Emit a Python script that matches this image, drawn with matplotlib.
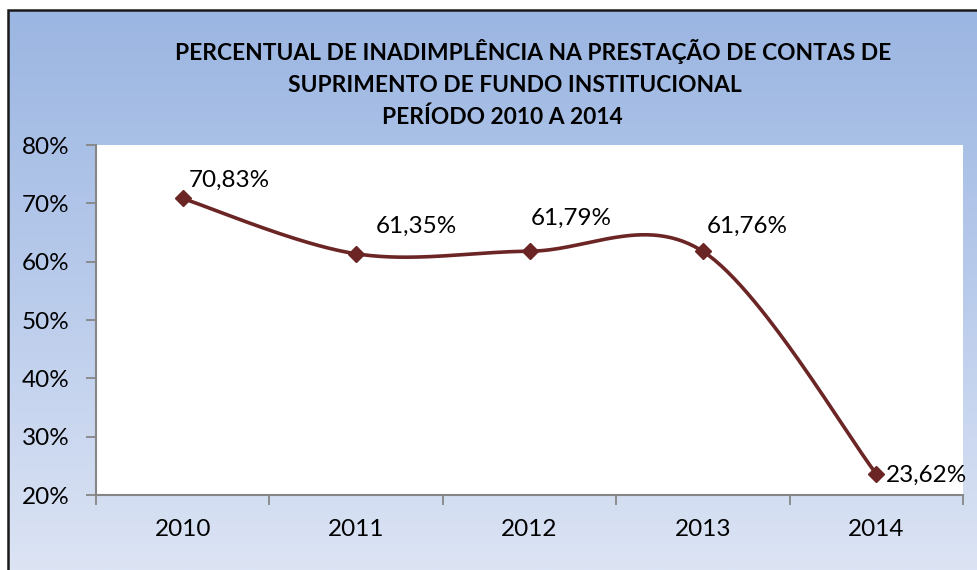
import numpy as np
import matplotlib
matplotlib.use("Agg")
import matplotlib.pyplot as plt
from matplotlib.colors import LinearSegmentedColormap
from matplotlib.patches import Rectangle

anos = ['2010', '2011', '2012', '2013', '2014']
percentual = [70.83, 61.35, 61.79, 61.76, 23.62]
rotulos = ['70,83%', '61,35%', '61,79%', '61,76%', '23,62%']
titulo = ['PERCENTUAL DE INADIMPLÊNCIA NA PRESTAÇÃO DE CONTAS DE',
          'SUPRIMENTO DE FUNDO INSTITUCIONAL',
          'PERÍODO 2010 A 2014']

# label offsets in points (dx, dy), left aligned
offsets = [(4, 13), (14, 20), (1, 24), (3, 18), (7, -1)]

plt.rcParams['font.family'] = ['Lato', 'DejaVu Sans']
line_color = '#6B2525'


def smooth(xs, ys, n=60):
    # Catmull-Rom style bezier, similar to Excel smoothed lines
    px = [xs[0]] + list(xs) + [xs[-1]]
    py = [ys[0]] + list(ys) + [ys[-1]]
    out_x, out_y = [], []
    t = np.linspace(0, 1, n)
    for i in range(1, len(xs)):
        x0, y0 = px[i], py[i]
        x3, y3 = px[i + 1], py[i + 1]
        x1 = x0 + (px[i + 1] - px[i - 1]) / 6
        y1 = y0 + (py[i + 1] - py[i - 1]) / 6
        x2 = x3 - (px[i + 2] - px[i]) / 6
        y2 = y3 - (py[i + 2] - py[i]) / 6
        bx = (1-t)**3*x0 + 3*(1-t)**2*t*x1 + 3*(1-t)*t**2*x2 + t**3*x3
        by = (1-t)**3*y0 + 3*(1-t)**2*t*y1 + 3*(1-t)*t**2*y2 + t**3*y3
        out_x.extend(bx)
        out_y.extend(by)
    return out_x, out_y


fig = plt.figure(figsize=(9.78, 5.7), dpi=100)
W, H = 978, 570

# gradient background inside the chart border
bg = fig.add_axes([0, 0, 1, 1], zorder=-10)
cmap = LinearSegmentedColormap.from_list('bg', ['#9BB6E2', '#B9CBEB', '#DCE4F4'])
grad = np.linspace(0, 1, 256).reshape(-1, 1)
bg.imshow(grad, aspect='auto', cmap=cmap, extent=[8 / W, 1, 0, 1 - 10 / H], origin='upper')
bg.set_xlim(0, 1)
bg.set_ylim(0, 1)
bg.axis('off')
bg.add_patch(Rectangle((8 / W, -0.1), 1.2, 1 - 10 / H + 0.1, fill=False,
                       edgecolor='#1A1A1A', linewidth=1.8))

ax = fig.add_axes([96 / W, 1 - 495 / H, (963 - 96) / W, (495 - 145) / H])
ax.set_facecolor('white')

x = np.arange(len(anos))
sx, sy = smooth(x, percentual)
ax.plot(sx, sy, color=line_color, linewidth=2.6, solid_capstyle='round', zorder=3)
ax.plot(x, percentual, linestyle='none', marker='D', markersize=8,
        color=line_color, zorder=4)

for i, lab in enumerate(rotulos):
    ax.annotate(lab, (x[i], percentual[i]), xytext=offsets[i], textcoords='offset points',
                ha='left', va='center', fontsize=17.5, color='black', zorder=5,
                annotation_clip=False)

ax.set_xlim(-0.5, len(anos) - 0.5)
ax.set_ylim(20, 80)
ax.set_yticks(range(20, 81, 10))
ax.set_yticklabels([f'{v}%' for v in range(20, 81, 10)], fontsize=17.5)
ax.set_xticks(x)
ax.set_xticklabels(anos, fontsize=17.5)
ax.set_xticks(np.arange(-0.5, len(anos), 1), minor=True)
ax.tick_params(axis='x', which='major', length=0, pad=17)
ax.tick_params(axis='x', which='minor', length=7, width=1.3, color='#868686')
ax.tick_params(axis='y', length=7, width=1.3, color='#868686', pad=12)

for s in ['top', 'right']:
    ax.spines[s].set_visible(False)
for s in ['left', 'bottom']:
    ax.spines[s].set_color('#868686')
    ax.spines[s].set_linewidth(1.5)

centers = [533, 515, 502]
ys = [52, 85, 117]
for txt, cx, cy in zip(titulo, centers, ys):
    fig.text(cx / W, 1 - cy / H, txt, ha='center', va='center', fontsize=16.4,
             fontweight='bold', color='black')

fig.savefig('out.png', dpi=100)
